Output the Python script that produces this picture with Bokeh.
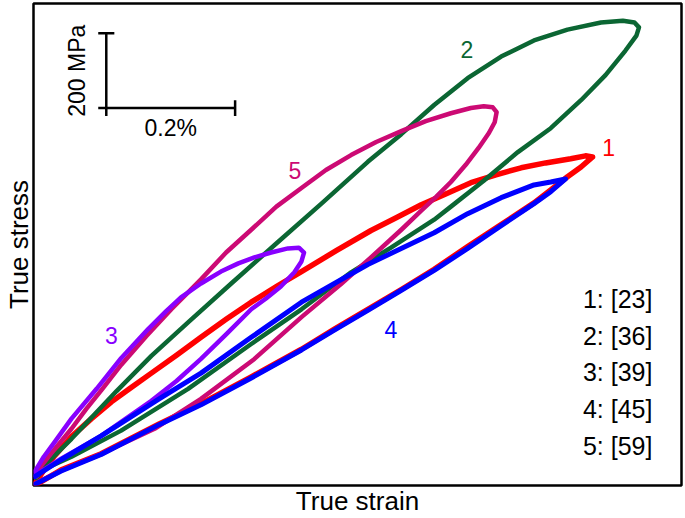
import math
from bokeh.plotting import figure
from bokeh.models import Range1d, FixedTicker
from bokeh.core.properties import value
from bokeh.embed import file_html
from bokeh.resources import INLINE

# ---- data: true strain (%) and true stress (MPa) for each hysteresis loop ----
loop1_strain = [0.002, 0.020, 0.033, 0.059, 0.090, 0.121, 0.149, 0.183, 0.222, 0.260, 0.299, 0.338, 0.377, 0.416, 0.470,
                0.524, 0.563, 0.602, 0.640, 0.679, 0.718, 0.757, 0.795, 0.834, 0.857, 0.868,
                0.850, 0.829, 0.803, 0.777, 0.726, 0.674, 0.622, 0.571, 0.519, 0.467, 0.416, 0.338, 0.260, 0.195, 0.105, 0.043, 0.002]
loop1_stress = [5, 51, 80, 131, 179, 224, 259, 301, 349, 397, 445, 491, 533, 573, 629,
                683, 717, 752, 781, 811, 832, 851, 864, 875, 883, 880,
                853, 827, 792, 757, 699, 640, 579, 525, 472, 419, 365, 291, 219, 165, 85, 42, 0]

loop2_strain = [0.005, 0.012, 0.059, 0.129, 0.183, 0.240, 0.307, 0.380, 0.447, 0.519, 0.571, 0.622, 0.674, 0.726, 0.777,
                0.829, 0.881, 0.915, 0.933, 0.940,
                0.936, 0.919, 0.888, 0.850, 0.803, 0.752, 0.699, 0.648, 0.622, 0.555, 0.493, 0.416, 0.338, 0.240, 0.136, 0.059, 0.012, 0.005]
loop2_stress = [19, 45, 125, 253, 347, 437, 541, 653, 755, 867, 941, 1019, 1091, 1149, 1192,
                1221, 1240, 1245, 1240, 1227,
                1205, 1165, 1099, 1032, 957, 893, 816, 747, 712, 637, 571, 472, 379, 259, 147, 77, 40, 19]

loop3_strain = [0.002, 0.016, 0.033, 0.059, 0.098, 0.136, 0.178, 0.206, 0.229, 0.260, 0.291, 0.318, 0.343, 0.369, 0.395, 0.412, 0.420,
                0.416, 0.405, 0.384, 0.361, 0.338, 0.299, 0.260, 0.222, 0.183, 0.105, 0.043, 0.002]
loop3_stress = [37, 77, 117, 179, 259, 341, 419, 467, 504, 541, 573, 595, 611, 624, 635, 637, 624,
                600, 571, 533, 501, 472, 405, 339, 280, 227, 133, 72, 27]

loop4_strain = [0.002, 0.043, 0.105, 0.195, 0.260, 0.338, 0.416, 0.519, 0.622, 0.674, 0.726, 0.777, 0.803, 0.826,
                0.803, 0.777, 0.726, 0.674, 0.622, 0.571, 0.519, 0.467, 0.416, 0.338, 0.260, 0.195, 0.105, 0.043, 0.002]
loop4_stress = [24, 69, 133, 232, 301, 397, 491, 592, 677, 728, 771, 805, 813, 821,
                787, 755, 696, 635, 576, 523, 469, 416, 363, 288, 216, 163, 83, 39, 3]

loop5_strain = [0.005, 0.012, 0.036, 0.059, 0.082, 0.107, 0.136, 0.175, 0.214, 0.260, 0.299, 0.338, 0.377, 0.416, 0.454,
                0.493, 0.532, 0.571, 0.609, 0.648, 0.679, 0.699, 0.713, 0.719,
                0.716, 0.707, 0.691, 0.671, 0.648, 0.625, 0.602, 0.571, 0.524, 0.477, 0.416, 0.343, 0.260, 0.188, 0.105, 0.043, 0.002]
loop5_stress = [24, 53, 104, 152, 205, 259, 323, 400, 472, 552, 624, 685, 747, 797, 845,
                885, 920, 949, 976, 997, 1011, 1016, 1013, 1000,
                973, 944, 904, 859, 813, 773, 736, 685, 611, 539, 451, 339, 232, 152, 85, 40, 5]

loop_ids = ["1", "2", "3", "4", "5"]
ref_ids = ["23", "36", "39", "45", "59"]
loop_label_strain = [0.893, 0.673, 0.121, 0.555, 0.406]
loop_label_stress = [904, 1168, 403, 419, 845]

scale_strain = 0.2      # %
scale_stress = 200      # MPa
scale_labels = ["0.2%", "200 MPa"]

x_label = "True strain"
y_label = "True stress"

# ---- styles ----
FONT = "Liberation Sans"
colors = {"1": "#ff0000", "2": "#0b6633", "3": "#8800ff", "4": "#0000ff", "5": "#cc0a74"}
widths = {"1": 5.5, "2": 4.5, "3": 4.5, "4": 5, "5": 4.5}

p = figure(width=685, height=518, output_backend="svg", toolbar_location=None,
           x_range=Range1d(0, 1.006), y_range=Range1d(0, 1291),
           min_border_left=32, min_border_right=4, min_border_top=3, min_border_bottom=31)
p.background_fill_color = "white"
p.border_fill_color = "white"
p.grid.visible = False
p.outline_line_color = "black"
p.outline_line_width = 2.5
p.outline_line_alpha = 1.0

for ax, lab in ((p.xaxis, x_label), (p.yaxis, y_label)):
    ax.ticker = FixedTicker(ticks=[])
    ax.major_label_text_font_size = "0px"
    ax.major_tick_line_color = None
    ax.minor_tick_line_color = None
    ax.axis_line_color = None
    ax.axis_label = lab
    ax.axis_label_text_font = FONT
    ax.axis_label_text_font_size = "26px"
    ax.axis_label_text_font_style = "normal"
    ax.axis_label_text_color = "black"
    ax.axis_label_standoff = 0

loops = {
    "1": (loop1_strain, loop1_stress),
    "2": (loop2_strain, loop2_stress),
    "3": (loop3_strain, loop3_stress),
    "4": (loop4_strain, loop4_stress),
    "5": (loop5_strain, loop5_stress),
}
for k in ["1", "2", "5", "3", "4"]:
    xs, ys = loops[k]
    p.line(xs, ys, line_color=colors[k], line_width=widths[k],
           line_join="round", line_cap="round")

# loop number labels
p.text(x=loop_label_strain, y=loop_label_stress, text=loop_ids,
       text_color=[colors[k] for k in loop_ids],
       text_font=value(FONT), text_font_size=value("23px"),
       text_align="center", text_baseline="middle")

# reference legend (text only)
leg_x = 0.853
leg_y0 = 499
leg_dy = 98
leg_text = [f"{a}: [{b}]" for a, b in zip(loop_ids, ref_ids)]
p.text(x=[leg_x] * len(leg_text), y=[leg_y0 - i * leg_dy for i in range(len(leg_text))],
       text=leg_text, text_color="black", text_font=value(FONT), text_font_size=value("25px"),
       text_align="left", text_baseline="middle")

# scale bar
sx0, sy0 = 0.113, 1011
cap_x, cap_y = 0.0125, 21
seg_x0 = [sx0, sx0 - cap_x, sx0 - cap_x, sx0 + scale_strain, sx0]
seg_y0 = [sy0 - cap_y, sy0 + scale_stress, sy0, sy0 - cap_y, sy0]
seg_x1 = [sx0, sx0 + cap_x, sx0 + scale_strain, sx0 + scale_strain, sx0]
seg_y1 = [sy0 + scale_stress, sy0 + scale_stress, sy0, sy0 + cap_y, sy0]
p.segment(seg_x0, seg_y0, seg_x1, seg_y1, line_color="black", line_width=2.5)
p.text(x=[sx0 + scale_strain / 2], y=[sy0 - 53], text=[scale_labels[0]],
       text_color="black", text_font=value(FONT), text_font_size=value("23px"),
       text_align="center", text_baseline="middle")
p.text(x=[sx0 - 0.045], y=[sy0 + scale_stress / 2], text=[scale_labels[1]], angle=math.pi / 2,
       text_color="black", text_font=value(FONT), text_font_size=value("23px"),
       text_align="center", text_baseline="middle")

open("out.html", "w").write(file_html(p, INLINE))
